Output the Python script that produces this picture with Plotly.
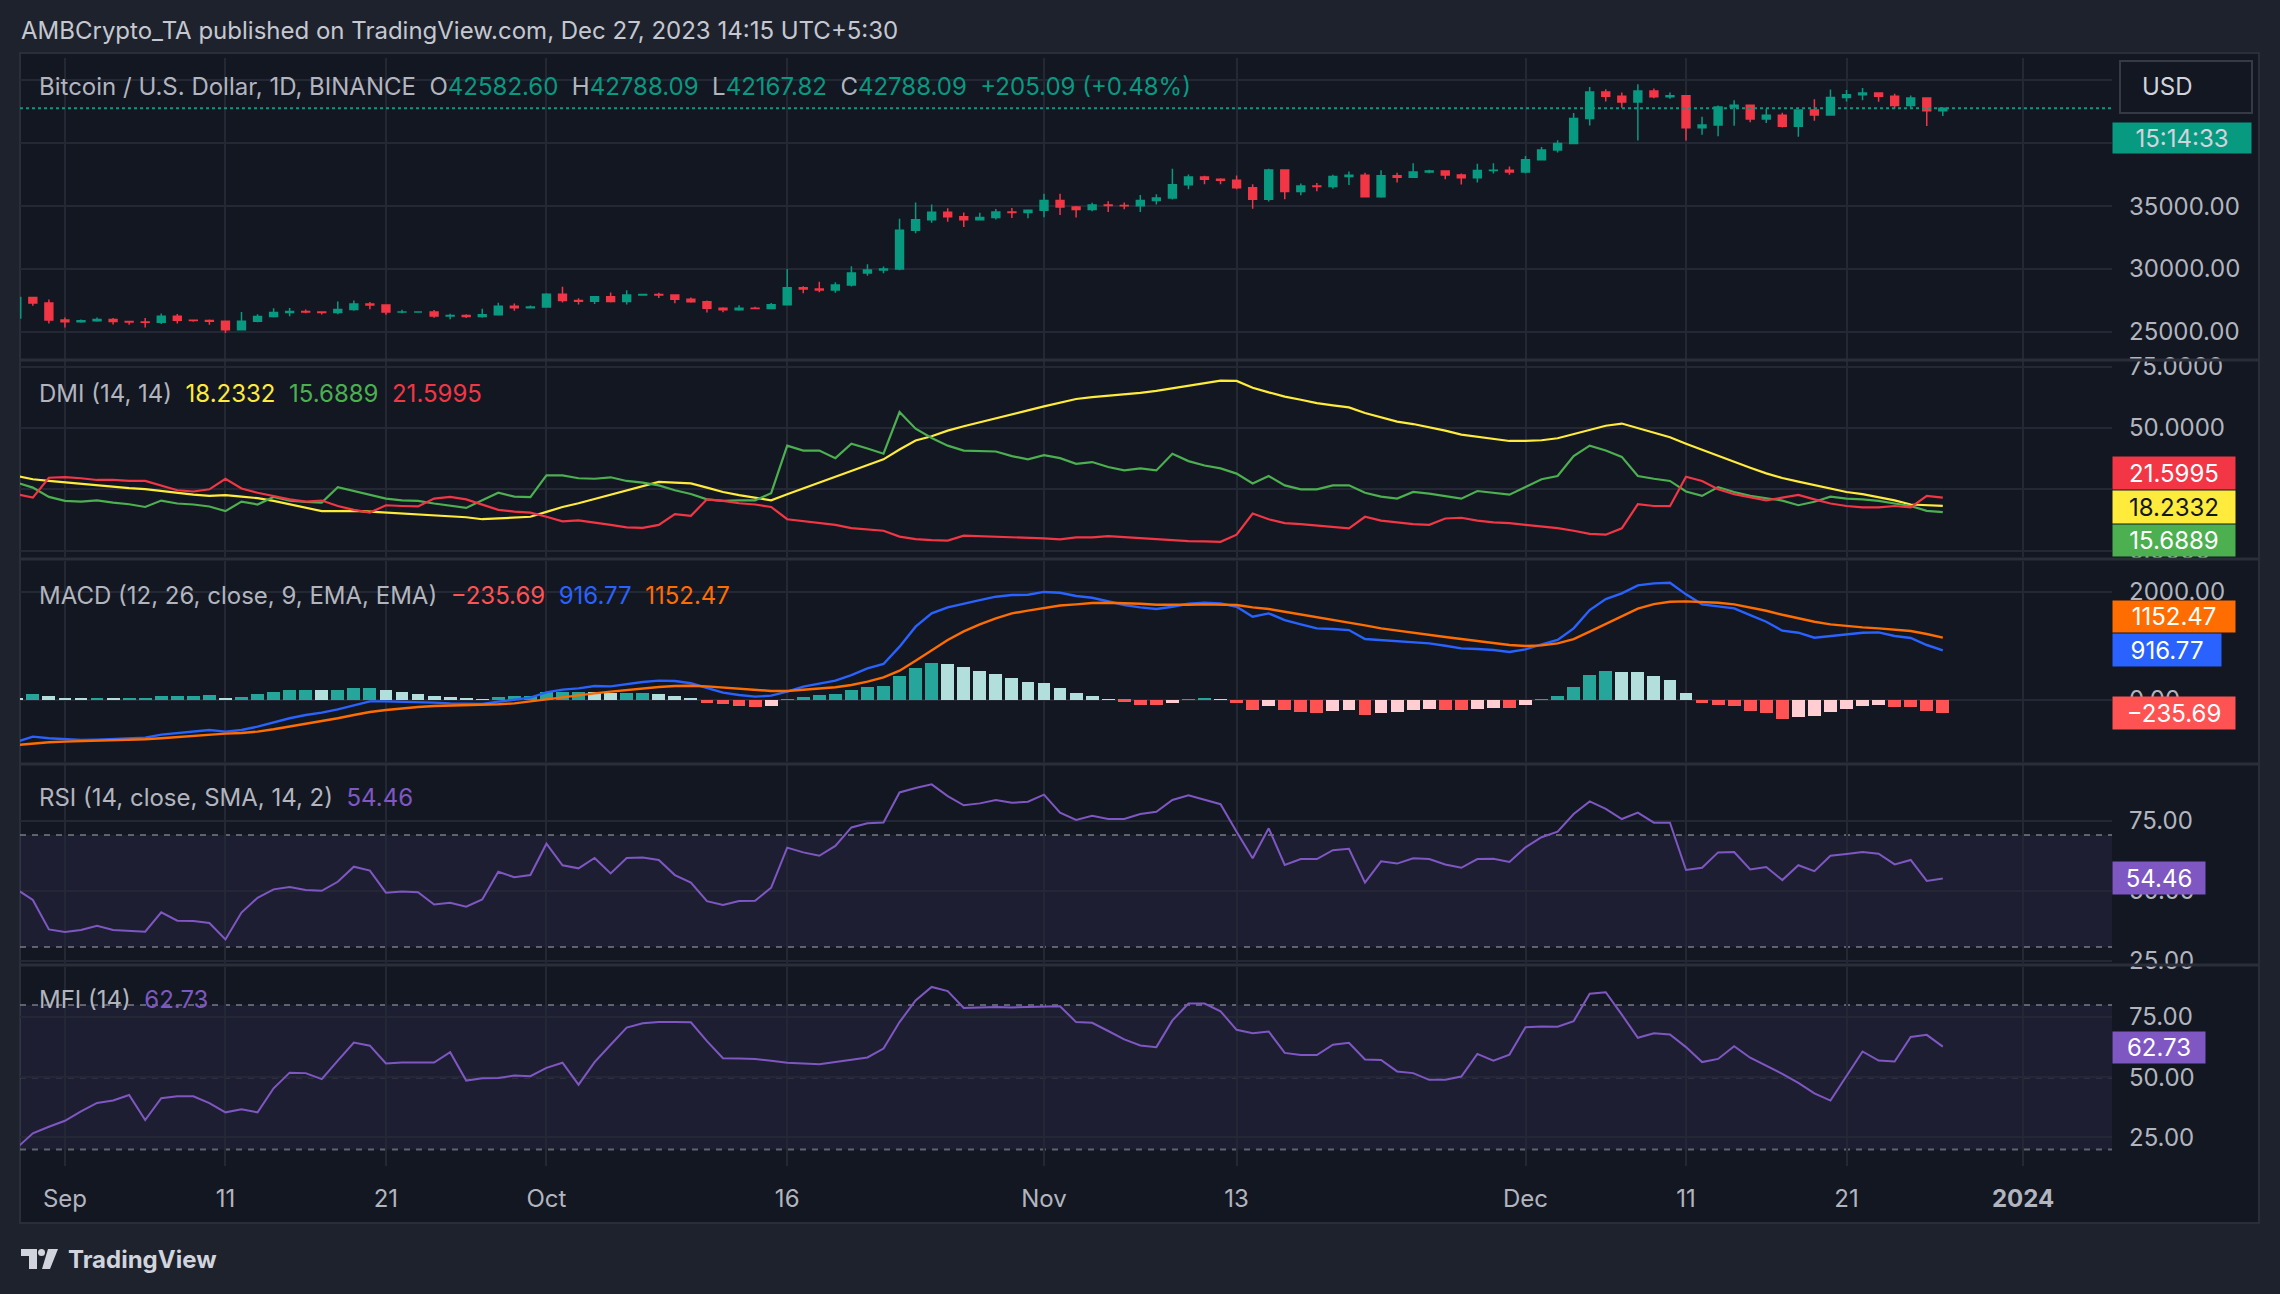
import plotly.graph_objects as go
from plotly.subplots import make_subplots
import pandas as pd

W, H = 2280, 1294
FONT = "Inter, Roboto, sans-serif"
TXT = "#B2B5BE"

# ---- data, one value per daily bar (Aug 29 .. Dec 27 2023) ----
START = "2023-08-29"

OPEN = [26100, 27726, 27297, 25932, 25800, 25869, 25969, 25813, 25779, 25753, 26241, 25906, 25895, 25832, 25162,
        25841, 26223, 26530, 26608, 26568, 26527, 26762, 27211, 27133, 26567, 26580, 26580, 26256, 26298, 26217,
        26352, 27021, 26906, 26963, 27984, 27494, 27426, 27779, 27412, 27932, 27957, 27917, 27590, 27392, 26874,
        26757, 26862, 26853, 27154, 28500, 28395, 28320, 28713, 29669, 29910, 29992, 33070, 33923, 34502, 34156,
        33909, 34089, 34538, 34484, 34667, 35437, 34938, 34732, 35083, 35049, 35037, 35443, 35655, 36694, 37313,
        37138, 37065, 36463, 35552, 37880, 36163, 36597, 36568, 37360, 37448, 35742, 37409, 37290, 37721, 37796,
        37480, 37254, 37832, 37858, 37712, 38688, 39476, 39979, 41980, 44080, 43746, 43293, 44171, 43713, 43789,
        41244, 41451, 42891, 43023, 41929, 42241, 41364, 42660, 42262, 43652, 43870, 43997, 43739, 43016, 43614,
        42582.60]
HIGH = [28142, 27760, 27575, 26125, 25970, 26135, 26100, 25875, 26100, 26444, 26419, 25945, 25979, 25900, 26567,
        26400, 26860, 26888, 26777, 26626, 27409, 27488, 27375, 27159, 26743, 26632, 26738, 26432, 26387, 26830,
        27308, 27244, 27094, 28065, 28580, 27672, 27830, 28120, 28295, 28022, 28100, 27987, 27735, 27477, 26948,
        27100, 26989, 27294, 30000, 28613, 28982, 28940, 30207, 30379, 30199, 34000, 35280, 35132, 34832, 34495,
        34478, 34770, 34856, 34720, 35985, 35985, 35018, 35275, 35397, 35285, 35886, 35950, 37972, 37526, 37407,
        37227, 37430, 36744, 37980, 37934, 36800, 36845, 37500, 37750, 37649, 37856, 37653, 38414, 37893, 37833,
        37596, 38368, 38420, 38145, 38999, 39699, 40250, 42420, 44488, 44300, 44046, 44700, 44359, 44038, 43804,
        42104, 43000, 43436, 43089, 42748, 42424, 42675, 43497, 44275, 44240, 44400, 44015, 43946, 43800, 43646,
        42788.09]
LOW = [25922, 27069, 25655, 25334, 25717, 25800, 25570, 25566, 25333, 25616, 25648, 25800, 25550, 24901, 25132,
       25764, 26126, 26224, 26478, 26377, 26386, 26674, 26800, 26359, 26468, 26509, 26122, 25990, 26090, 26111,
       26330, 26665, 26886, 26954, 27326, 27160, 27215, 27333, 27175, 27858, 27686, 27260, 27298, 26538, 26560,
       26680, 26813, 26810, 27112, 28070, 28140, 28102, 28594, 29460, 29665, 29890, 32837, 33678, 33762, 33340,
       33880, 33930, 34061, 34025, 34110, 34300, 34097, 34583, 34522, 34746, 34523, 35120, 35534, 36333, 36733,
       36734, 36341, 34800, 35360, 35545, 35861, 36178, 36384, 36677, 35735, 35670, 36870, 37251, 37617, 37148,
       36722, 36882, 37600, 37500, 37616, 38647, 39274, 39978, 41415, 43335, 42821, 40230, 43584, 43556, 40222,
       40680, 40555, 41400, 41666, 41606, 41250, 40530, 41800, 42223, 43330, 43418, 43300, 42746, 42730, 41370,
       42167.82]
CLOSE = [27726, 27297, 25932, 25800, 25869, 25969, 25813, 25779, 25753, 26241, 25906, 25895, 25832, 25162, 25841,
         26223, 26530, 26608, 26568, 26527, 26762, 27211, 27133, 26567, 26580, 26580, 26256, 26298, 26217, 26352,
         27021, 26906, 26963, 27984, 27494, 27426, 27779, 27412, 27932, 27957, 27917, 27590, 27392, 26874, 26757,
         26862, 26853, 27154, 28500, 28395, 28320, 28713, 29669, 29910, 29992, 33070, 33923, 34502, 34156, 33909,
         34089, 34538, 34484, 34667, 35437, 34938, 34732, 35083, 35049, 35037, 35443, 35655, 36694, 37313, 37138,
         37065, 36463, 35552, 37880, 36163, 36597, 36568, 37360, 37448, 35742, 37409, 37290, 37721, 37796, 37480,
         37254, 37832, 37858, 37712, 38688, 39476, 39979, 41980, 44080, 43746, 43293, 44171, 43713, 43789, 41244,
         41451, 42891, 43023, 41929, 42241, 41364, 42660, 42262, 43652, 43870, 43997, 43739, 43016, 43614, 42583,
         42788.09]

ADX = [30.4, 29.1, 28.4, 27.8, 27.3, 26.6, 26.1, 25.5, 25.1, 24.3, 23.5, 22.8, 22.3, 22.6, 22.0, 21.4, 20.3, 18.8,
       17.3, 16.1, 16.1, 16.2, 15.9, 15.5, 15.1, 14.7, 14.2, 13.9, 13.6, 12.8, 13.1, 13.2, 13.8, 15.8, 17.8, 19.3,
       21.1, 22.8, 24.7, 26.5, 28.0, 27.7, 27.4, 25.7, 23.9, 22.6, 21.5, 20.5, 23.0, 25.4, 27.7, 29.9, 32.3, 34.7,
       37.2, 41.2, 44.9, 46.6, 48.9, 50.7, 52.4, 54.1, 55.7, 57.2, 58.8, 60.4, 61.8, 62.6, 63.1, 63.6, 64.3, 65.1,
       66.2, 67.3, 68.4, 69.3, 69.2, 66.4, 64.5, 62.8, 61.5, 60.1, 59.2, 58.4, 56.1, 54.2, 52.6, 51.6, 50.4, 48.9,
       47.3, 46.4, 45.5, 44.7, 44.7, 45.0, 45.8, 47.4, 49.3, 50.9, 51.8, 50.0, 48.0, 46.2, 43.6, 41.1, 38.5, 36.1,
       33.8, 31.5, 29.6, 28.1, 26.6, 25.1, 23.9, 23.0, 21.9, 20.5, 18.8, 18.5, 18.2332]
PLUS_DI = [27.7, 25.7, 21.9, 20.3, 20.0, 20.5, 19.6, 18.9, 17.8, 20.4, 19.2, 18.8, 18.0, 16.1, 20.0, 18.8, 21.9,
           20.4, 19.9, 19.6, 25.9, 24.3, 22.8, 21.2, 20.5, 20.3, 19.2, 18.2, 17.4, 20.5, 23.6, 22.0, 21.8, 30.7,
           30.7, 29.5, 29.3, 29.9, 28.4, 27.7, 26.6, 24.6, 23.1, 20.9, 20.3, 20.5, 20.5, 23.4, 42.8, 40.8, 40.8,
           37.7, 43.6, 41.6, 39.5, 56.5, 49.7, 45.9, 42.8, 40.8, 40.5, 40.4, 38.5, 37.2, 38.9, 37.7, 35.4, 36.1,
           34.1, 32.7, 33.5, 32.7, 39.5, 36.5, 34.7, 33.5, 31.4, 27.4, 30.4, 26.6, 25.0, 25.0, 26.6, 26.6, 23.6,
           22.0, 21.2, 23.9, 23.2, 22.2, 21.2, 24.3, 23.6, 22.8, 25.9, 29.1, 30.4, 38.5, 42.8, 40.8, 38.2, 30.4,
           29.3, 28.4, 24.1, 22.3, 25.9, 23.9, 22.3, 21.5, 20.4, 18.5, 19.9, 22.0, 21.2, 20.9, 20.3, 19.2, 18.2,
           16.2, 15.6889]
MINUS_DI = [23.0, 21.6, 29.7, 30.0, 29.5, 28.8, 28.8, 28.4, 28.4, 26.4, 24.6, 24.1, 25.0, 29.3, 25.3, 23.6, 22.3,
            20.9, 20.0, 20.4, 18.2, 16.6, 15.5, 18.5, 18.2, 18.0, 21.2, 21.9, 20.9, 18.6, 16.6, 15.9, 15.5, 13.8,
            11.9, 12.3, 11.5, 10.5, 9.5, 9.3, 10.5, 14.9, 14.2, 20.9, 20.3, 19.3, 18.8, 17.8, 12.8, 12.0, 11.2,
            10.5, 9.2, 8.6, 8.1, 5.7, 4.7, 4.3, 4.1, 6.1, 5.9, 5.8, 5.7, 5.3, 5.0, 4.6, 5.4, 5.4, 5.9, 5.5, 5.1,
            4.6, 4.1, 3.9, 3.8, 3.6, 6.5, 15.1, 12.8, 11.2, 10.8, 10.3, 9.7, 9.1, 13.8, 12.2, 11.5, 10.8, 10.5,
            13.1, 13.4, 12.2, 11.5, 11.2, 10.5, 9.9, 9.2, 8.1, 6.8, 6.5, 9.1, 18.9, 18.2, 18.1, 30.1, 28.4, 25.0,
            23.0, 21.6, 20.5, 21.6, 22.7, 20.9, 19.2, 18.2, 17.6, 17.6, 18.2, 17.6, 22.3, 21.5995]

MACD = [-769, -677, -707, -726, -738, -732, -720, -707, -695, -640, -609, -578, -554, -584, -554, -492, -412, -338,
        -277, -234, -172, -92, -25, -25, -31, -31, -49, -62, -74, -74, -31, 0, 43, 141, 191, 215, 258, 252, 295,
        332, 357, 351, 308, 215, 135, 92, 62, 80, 154, 246, 295, 357, 461, 584, 664, 984, 1353, 1599, 1710, 1784,
        1845, 1907, 1937, 1943, 1995, 1980, 1919, 1888, 1814, 1753, 1710, 1679, 1722, 1777, 1796, 1784, 1722,
        1537, 1599, 1476, 1396, 1322, 1310, 1291, 1125, 1107, 1082, 1076, 1045, 1002, 953, 941, 922, 886, 935,
        1027, 1107, 1322, 1660, 1863, 1968, 2116, 2152, 2165, 1950, 1765, 1734, 1691, 1568, 1445, 1279, 1242,
        1150, 1181, 1212, 1242, 1248, 1181, 1144, 1015, 916.77]
SIGNAL = [-830, -800, -781, -769, -763, -750, -744, -738, -726, -707, -683, -658, -633, -621, -609, -584, -541,
          -492, -443, -394, -338, -277, -221, -185, -154, -129, -111, -105, -98, -92, -80, -62, -31, 12, 49, 92,
          123, 154, 185, 215, 240, 258, 264, 252, 228, 203, 178, 166, 166, 185, 209, 234, 277, 338, 418, 541, 726,
          922, 1107, 1267, 1396, 1507, 1599, 1650, 1700, 1745, 1765, 1790, 1796, 1790, 1777, 1759, 1753, 1759,
          1765, 1765, 1753, 1710, 1679, 1630, 1581, 1525, 1482, 1439, 1377, 1322, 1279, 1242, 1205, 1162, 1125,
          1089, 1052, 1015, 996, 1008, 1045, 1125, 1261, 1402, 1550, 1685, 1771, 1814, 1820, 1808, 1796, 1765,
          1710, 1648, 1574, 1507, 1445, 1396, 1365, 1341, 1322, 1304, 1273, 1218, 1152.47]
HIST = [43, 111, 74, 40, 36, 38, 35, 38, 40, 70, 72, 75, 92, 43, 62, 111, 148, 185, 188, 183, 186, 221, 224, 185,
        148, 105, 74, 55, 25, 18, 62, 74, 76, 141, 148, 150, 148, 123, 126, 128, 110, 74, 37, -49, -74, -105, -123,
        -111, 12, 62, 98, 111, 185, 234, 258, 443, 584, 677, 670, 603, 535, 480, 412, 326, 308, 221, 129, 74, 18,
        -31, -86, -88, -49, 12, 37, 12, -62, -178, -105, -178, -215, -234, -197, -178, -277, -234, -215, -185,
        -166, -185, -190, -160, -148, -150, -86, 18, 74, 246, 461, 535, 517, 515, 443, 369, 135, -49, -86, -111,
        -197, -246, -344, -308, -300, -215, -160, -105, -86, -123, -125, -209, -235.69]

RSI = [50.6, 46.8, 36.3, 35.4, 36.1, 37.6, 36.1, 35.8, 35.5, 42.4, 39.4, 39.3, 38.6, 32.7, 42.3, 47.6, 50.6, 51.4,
       50.4, 50.1, 53.3, 58.7, 57.3, 49.4, 49.8, 49.6, 45.2, 45.8, 44.4, 47.0, 56.9, 54.9, 55.7, 66.9, 59.2, 58.1,
       61.8, 56.3, 61.8, 62.0, 61.1, 55.7, 53.0, 46.4, 45.0, 46.4, 46.5, 51.2, 65.5, 63.8, 62.6, 66.1, 72.7, 74.2,
       74.5, 85.2, 86.8, 88.1, 83.9, 80.6, 81.3, 82.5, 81.5, 81.9, 84.4, 78.0, 75.4, 76.9, 75.7, 75.7, 77.5, 78.3,
       82.5, 84.2, 82.5, 81.0, 71.2, 61.7, 72.4, 59.3, 61.4, 61.4, 64.6, 65.1, 53.0, 60.6, 59.8, 61.7, 61.4, 59.5,
       58.3, 61.4, 61.5, 60.4, 65.6, 69.2, 71.2, 77.5, 82.0, 79.3, 75.7, 78.0, 74.4, 74.4, 57.5, 58.3, 63.8, 63.9,
       57.7, 58.6, 53.9, 59.2, 57.1, 62.6, 63.2, 63.9, 63.3, 59.5, 61.1, 53.6, 54.46]
MFI = [20.6, 26.7, 29.4, 31.9, 35.8, 39.3, 40.3, 42.6, 32.2, 41.3, 42.1, 42.1, 39.2, 35.4, 36.7, 35.4, 45.4, 51.9,
       51.7, 49.2, 56.9, 64.4, 63.1, 55.7, 56.1, 56.1, 56.1, 60.4, 48.6, 49.6, 49.7, 50.7, 50.4, 53.9, 56.0, 46.9,
       56.3, 63.5, 70.6, 72.4, 72.9, 72.9, 72.8, 65.0, 57.9, 57.8, 57.6, 56.8, 56.0, 55.7, 55.4, 56.3, 57.2, 58.2,
       61.9, 72.9, 81.9, 87.5, 85.8, 78.8, 79.0, 79.2, 79.0, 79.2, 79.4, 79.5, 72.9, 72.6, 69.2, 65.7, 63.2, 62.5,
       73.6, 80.6, 80.6, 77.4, 69.7, 68.3, 69.0, 60.1, 59.2, 59.2, 63.5, 64.3, 57.4, 57.2, 52.4, 51.7, 48.9, 48.9,
       50.3, 59.7, 56.9, 59.4, 70.8, 71.1, 71.0, 73.3, 84.7, 85.3, 76.0, 66.4, 68.3, 67.8, 62.5, 56.3, 57.6, 62.9,
       58.1, 54.9, 51.4, 47.6, 43.3, 40.3, 50.7, 60.7, 56.9, 56.5, 66.7, 67.6, 62.73]

RSI_LEVELS = [30, 50, 70]
MFI_LEVELS = [20, 50, 80]

TICK_DATES = ["2023-09-01", "2023-09-11", "2023-09-21", "2023-10-01", "2023-10-16", "2023-11-01",
              "2023-11-13", "2023-12-01", "2023-12-11", "2023-12-21", "2024-01-01"]
TICK_TEXT = ["Sep", "11", "21", "Oct", "16", "Nov", "13", "Dec", "11", "21", "<b>2024</b>"]

series = dict(OPEN=OPEN, HIGH=HIGH, LOW=LOW, CLOSE=CLOSE, ADX=ADX, PLUS_DI=PLUS_DI, MINUS_DI=MINUS_DI,
              MACD=MACD, SIGNAL=SIGNAL, HIST=HIST, RSI=RSI, MFI=MFI)
for k, v in series.items():
    assert len(v) == len(CLOSE), (k, len(v))

DATES = pd.date_range(START, periods=len(CLOSE), freq="D")

GREEN, RED = "#089981", "#F23645"
C_ADX, C_PDI, C_MDI = "#FFEB3B", "#4CAF50", "#F23645"
C_MACD, C_SIG = "#2962FF", "#FF6D00"
PURPLE = "#7E57C2"
GRID = "#242835"


def hist_colors(vals):
    out = []
    for i, v in enumerate(vals):
        prev = vals[i - 1] if i else v
        if v >= 0:
            out.append("#26A69A" if v > prev else "#B2DFDB")
        else:
            out.append("#FFCDD2" if v > prev else "#FF5252")
    return out


def py(p):  # picture pixel row -> paper y
    return 1 - p / H


def px(p):
    return p / W


fig = make_subplots(rows=5, cols=1, shared_xaxes=True)

fig.add_trace(go.Candlestick(x=DATES, open=OPEN, high=HIGH, low=LOW, close=CLOSE,
                             increasing=dict(line=dict(color=GREEN, width=1.5), fillcolor=GREEN),
                             decreasing=dict(line=dict(color=RED, width=1.5), fillcolor=RED),
                             hoverinfo="skip"), row=1, col=1)

fig.add_trace(go.Scatter(x=DATES, y=ADX, mode="lines", line=dict(color=C_ADX, width=2.2)), row=2, col=1)
fig.add_trace(go.Scatter(x=DATES, y=PLUS_DI, mode="lines", line=dict(color=C_PDI, width=2.2)), row=2, col=1)
fig.add_trace(go.Scatter(x=DATES, y=MINUS_DI, mode="lines", line=dict(color=C_MDI, width=2.2)), row=2, col=1)

fig.add_trace(go.Bar(x=DATES, y=HIST, marker=dict(color=hist_colors(HIST), line=dict(width=0)),
                     width=0.8 * 86400000), row=3, col=1)
fig.add_trace(go.Scatter(x=DATES, y=MACD, mode="lines", line=dict(color=C_MACD, width=2.4)), row=3, col=1)
fig.add_trace(go.Scatter(x=DATES, y=SIGNAL, mode="lines", line=dict(color=C_SIG, width=2.4)), row=3, col=1)

fig.add_trace(go.Scatter(x=DATES, y=RSI, mode="lines", line=dict(color=PURPLE, width=2)), row=4, col=1)
fig.add_trace(go.Scatter(x=DATES, y=MFI, mode="lines", line=dict(color=PURPLE, width=2)), row=5, col=1)

# pane layout (pixel rows of the 2280x1294 picture); "hidden" ticks keep their gridline but
# their label sits under a value tag in the original, so it gets no text
X_DOM = [px(20), px(2112)]
PANES = [  # (top px, bottom px, range, ticks, hidden, format)
    (58, 359, [22830, 46790], [25000, 30000, 35000, 40000, 45000], [40000, 45000], ".2f"),
    (361, 557, [-2.6, 77.3], [0, 25, 50, 75], [25], ".4f"),
    (561, 762, [-1145, 2566], [0, 2000], [], ".2f"),
    (765, 963, [24.3, 95.0], [25, 50, 75], [], ".2f"),
    (967, 1166, [13.1, 95.8], [25, 50, 75], [], ".2f"),
]
XR = ["2023-08-29 04:48", "2024-01-06 13:00"]

for i, (top, bot, rng, ticks, hidden, fmt) in enumerate(PANES, start=1):
    ttext = ["" if t in hidden else format(t, fmt) for t in ticks]
    fig.update_yaxes(row=i, col=1, domain=[py(bot), py(top)], range=rng, side="right", tickmode="array",
                     tickvals=ticks, ticktext=ttext, showgrid=True, gridcolor=GRID, gridwidth=1.5,
                     zeroline=False, tickfont=dict(family=FONT, size=24, color=TXT), ticklabelstandoff=16,
                     fixedrange=True, automargin=False)
    fig.update_xaxes(row=i, col=1, domain=X_DOM, range=XR, tickvals=TICK_DATES, ticktext=TICK_TEXT,
                     showgrid=True, gridcolor=GRID, gridwidth=1.5, zeroline=False, showline=False,
                     showticklabels=(i == 5), rangeslider=dict(visible=False), automargin=False,
                     tickfont=dict(family=FONT, size=24, color=TXT), ticklabelstandoff=16)

shapes = []
# chart frame
shapes.append(dict(type="rect", xref="paper", yref="paper", x0=px(20), x1=px(2259), y0=py(1223), y1=py(53),
                   fillcolor="#131722", line=dict(color="#2A2E39", width=2), layer="below"))
# pane separators
for yy in [360, 559, 764, 965]:
    shapes.append(dict(type="line", xref="paper", yref="paper", x0=px(20), x1=px(2259), y0=py(yy), y1=py(yy),
                       line=dict(color="#2A2E39", width=3)))
# RSI / MFI bands and dashed levels
for ax, lv in (("4", RSI_LEVELS), ("5", MFI_LEVELS)):
    shapes.append(dict(type="rect", xref=f"x{ax} domain", yref=f"y{ax}", x0=0, x1=1, y0=lv[0], y1=lv[-1],
                       fillcolor="rgba(126,87,194,0.11)", line=dict(width=0), layer="below"))
    for v in lv:
        shapes.append(dict(type="line", xref=f"x{ax} domain", yref=f"y{ax}", x0=0, x1=1, y0=v, y1=v,
                           line=dict(color="rgba(120,123,134,0.75)", width=2, dash="6px,6px"), layer="below"))
# MACD zero level
shapes.append(dict(type="line", xref="x3 domain", yref="y3", x0=0, x1=1, y0=0, y1=0,
                   line=dict(color="rgba(120,123,134,0.6)", width=2, dash="6px,6px"), layer="below"))
# last price dotted line
shapes.append(dict(type="line", xref="x domain", yref="y", x0=0, x1=1, y0=CLOSE[-1], y1=CLOSE[-1],
                   line=dict(color=GREEN, width=2, dash="dot")))
# USD button
shapes.append(dict(type="rect", xref="paper", yref="paper", x0=px(2120), x1=px(2252), y0=py(113), y1=py(61),
                   fillcolor="#131722", line=dict(color="#363A45", width=2)))
# TradingView logo glyph
shapes += [
    dict(type="rect", xref="paper", yref="paper", x0=px(21), x1=px(37), y0=py(1256), y1=py(1249),
         fillcolor="#D1D4DC", line=dict(width=0)),
    dict(type="rect", xref="paper", yref="paper", x0=px(29), x1=px(37), y0=py(1269), y1=py(1249),
         fillcolor="#D1D4DC", line=dict(width=0)),
    dict(type="circle", xref="paper", yref="paper", x0=px(38), x1=px(45), y0=py(1256), y1=py(1249),
         fillcolor="#D1D4DC", line=dict(width=0)),
    dict(type="path", xref="paper", yref="paper",
         path=f"M {px(48)},{py(1249)} L {px(58)},{py(1249)} L {px(50)},{py(1269)} L {px(42)},{py(1269)} Z",
         fillcolor="#D1D4DC", line=dict(width=0)),
]


def span(text, color):
    return f'<span style="color:{color}">{text}</span>'


def label(text, x, y, size=24, color=TXT):
    return dict(xref="paper", yref="paper", x=px(x), y=py(y), xanchor="left", yanchor="middle", text=text,
                showarrow=False, font=dict(family=FONT, size=size, color=color))


def tag(text, x0, x1, y0, y1, bg, fg="#FFFFFF"):
    return dict(xref="paper", yref="paper", x=px(x0), y=py((y0 + y1) / 2), xanchor="left", yanchor="middle",
                text=text, showarrow=False, bgcolor=bg, borderpad=3, width=x1 - x0 - 8, height=y1 - y0 - 8,
                align="center", font=dict(family=FONT, size=24, color=fg))


def num(v, d):
    return f"{v:.{d}f}".replace("-", "\u2212")


sp = "&nbsp;&nbsp;"
chg = CLOSE[-1] - CLOSE[-2]
pct = chg / CLOSE[-2] * 100
price_leg = ("Bitcoin / U.S. Dollar, 1D, BINANCE" + sp
             + "O" + span(f"{OPEN[-1]:.2f}", GREEN) + sp + "H" + span(f"{HIGH[-1]:.2f}", GREEN) + sp
             + "L" + span(f"{LOW[-1]:.2f}", GREEN) + sp + "C" + span(f"{CLOSE[-1]:.2f}", GREEN) + sp
             + span(f"+{chg:.2f} (+{pct:.2f}%)", GREEN))
dmi_leg = ("DMI (14, 14)" + sp + span(num(ADX[-1], 4), C_ADX) + sp + span(num(PLUS_DI[-1], 4), C_PDI) + sp
           + span(num(MINUS_DI[-1], 4), C_MDI))
macd_leg = ("MACD (12, 26, close, 9, EMA, EMA)" + sp + span(num(HIST[-1], 2), "#FF5252") + sp
            + span(num(MACD[-1], 2), C_MACD) + sp + span(num(SIGNAL[-1], 2), C_SIG))
rsi_leg = "RSI (14, close, SMA, 14, 2)" + sp + span(num(RSI[-1], 2), PURPLE)
mfi_leg = "MFI (14)" + sp + span(num(MFI[-1], 2), PURPLE)

annotations = [
    label("AMBCrypto_TA published on TradingView.com, Dec 27, 2023 14:15 UTC+5:30", 19, 31, 24, "#C5C8D0"),
    label(price_leg, 37, 86),
    label(dmi_leg, 37, 393),
    label(macd_leg, 37, 595),
    label(rsi_leg, 37, 797),
    label(mfi_leg, 37, 999),
    label("USD", 2140, 87, 24, "#D1D4DC"),
    label("<b>TradingView</b>", 66, 1259, 24, "#D1D4DC"),
    tag("15:14:33", 2112, 2252, 122, 154, GREEN, "#D1D4DC"),
    tag(num(MINUS_DI[-1], 4), 2112, 2236, 456, 490, C_MDI),
    tag(num(ADX[-1], 4), 2112, 2236, 490, 524, C_ADX, "#131722"),
    tag(num(PLUS_DI[-1], 4), 2112, 2236, 524, 557, C_PDI),
    tag(num(SIGNAL[-1], 2), 2112, 2236, 600, 633, C_SIG),
    tag(num(MACD[-1], 2), 2112, 2222, 633, 667, C_MACD),
    tag(num(HIST[-1], 2), 2112, 2236, 696, 730, "#FF5252"),
    tag(num(RSI[-1], 2), 2112, 2206, 861, 895, PURPLE),
    tag(num(MFI[-1], 2), 2112, 2206, 1031, 1064, PURPLE),
]

fig.update_layout(width=W, height=H, margin=dict(l=0, r=0, t=0, b=0), paper_bgcolor="#1E222D",
                  plot_bgcolor="#131722", showlegend=False, hovermode=False, bargap=0,
                  shapes=shapes, annotations=annotations, font=dict(family=FONT, color=TXT))

# the page body has a default 8px margin; drop it so the figure fills the window exactly
fig.write_html("out.html", config={"displayModeBar": False},
               post_script="document.body.style.margin='0';document.body.style.background='#1E222D';")
